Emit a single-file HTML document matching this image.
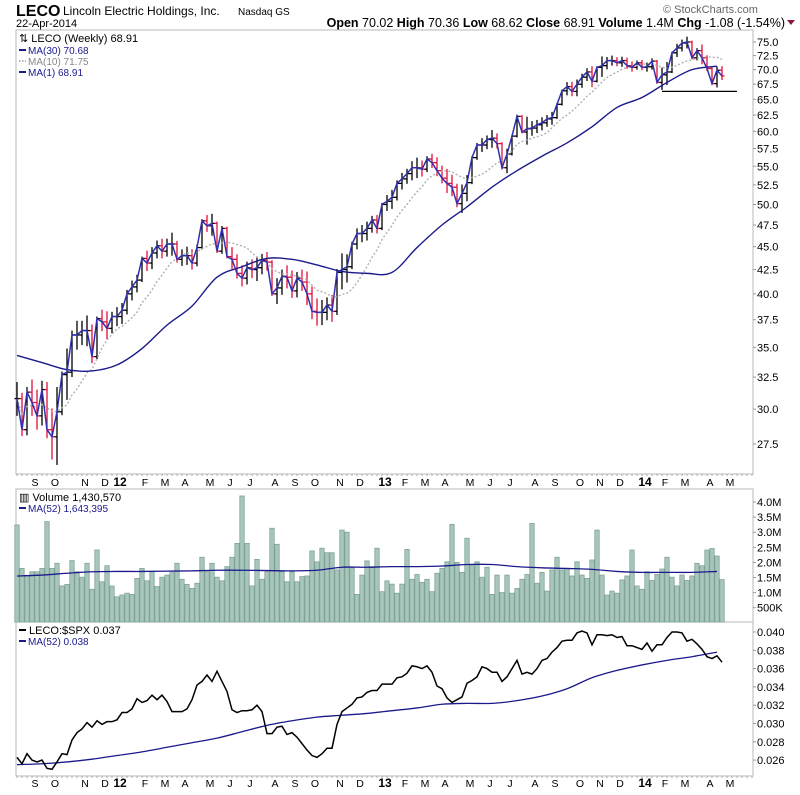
<!DOCTYPE html>
<html><head><meta charset="utf-8"><style>
html,body{margin:0;padding:0;background:#fff;}
svg{display:block;font-family:"Liberation Sans",sans-serif;}
</style></head><body>
<svg id="chart" width="800" height="795" viewBox="0 0 800 795" xmlns="http://www.w3.org/2000/svg">
<g>
<text x="16" y="16" font-size="16" font-weight="bold">LECO</text>
<text x="63" y="15" font-size="12">Lincoln Electric Holdings, Inc.</text>
<text x="238" y="15" font-size="10">Nasdaq GS</text>
<text x="16" y="27" font-size="11">22-Apr-2014</text>
<text x="663" y="13" font-size="11" fill="#666">© StockCharts.com</text>
<text x="785" y="27" font-size="12.5" text-anchor="end"><tspan font-weight="bold">Open</tspan> 70.02 <tspan font-weight="bold">High</tspan> 70.36 <tspan font-weight="bold">Low</tspan> 68.62 <tspan font-weight="bold">Close</tspan> 68.91 <tspan font-weight="bold">Volume</tspan> 1.4M <tspan font-weight="bold">Chg</tspan> -1.08 (-1.54%)</text>
<path d="M787 20 L795 20 L791 25 Z" fill="#8b1a3a"/>
</g>
<rect x="16" y="30" width="737" height="444" fill="none" stroke="#b8b8b8"/>
<rect x="16" y="489" width="737" height="133" fill="none" stroke="#b8b8b8"/>
<rect x="16" y="622" width="737" height="154" fill="none" stroke="#b8b8b8"/>
<g id="axes"></g>
<g id="marks"></g>
<g font-size="11">
<rect x="17" y="31" width="150" height="46" fill="#fff"/>
<text x="19" y="42">⇅ LECO (Weekly) 68.91</text>
<line x1="19" y1="50" x2="26" y2="50" stroke="#1a1a8c" stroke-width="2"/>
<text x="28" y="54" font-size="10" fill="#1a1a8c">MA(30) 70.68</text>
<line x1="19" y1="61" x2="26" y2="61" stroke="#999" stroke-width="1.5" stroke-dasharray="1.5,1.5"/>
<text x="28" y="65" font-size="10" fill="#888">MA(10) 71.75</text>
<line x1="19" y1="72" x2="26" y2="72" stroke="#1a1a8c" stroke-width="2"/>
<text x="28" y="76" font-size="10" fill="#1a1a8c">MA(1) 68.91</text>
</g>
<g>
<text x="19" y="501" font-size="11">▥ Volume 1,430,570</text>
<line x1="19" y1="508" x2="26" y2="508" stroke="#1a1a8c" stroke-width="2"/>
<text x="28" y="512" font-size="10" fill="#1a1a8c">MA(52) 1,643,395</text>
</g>
<g>
<line x1="19" y1="630" x2="26" y2="630" stroke="#000" stroke-width="2"/>
<text x="29" y="634" font-size="11">LECO:$SPX 0.037</text>
<line x1="19" y1="641" x2="26" y2="641" stroke="#1a1a8c" stroke-width="2"/>
<text x="28" y="645" font-size="10" fill="#1a1a8c">MA(52) 0.038</text>
</g>
</svg>
<script>
const closes=[30.8,28.5,31.3,30.5,29.5,31.5,28.5,28.0,29.8,32.7,32.9,36.1,36.1,36.5,36.5,34.2,37.6,37.3,36.7,37.8,37.8,38.4,40.0,40.7,41.4,43.7,43.2,44.3,45.1,44.5,45.3,45.3,43.6,44.0,44.0,43.2,44.9,48.0,47.4,47.7,44.5,47.1,43.9,43.6,42.1,41.6,42.7,42.5,42.7,43.5,43.3,40.0,40.6,41.8,41.7,40.3,41.6,41.2,40.0,38.3,38.2,38.2,38.9,38.3,42.2,42.5,42.8,45.3,46.5,46.5,47.1,48.1,47.1,50.0,50.4,50.9,52.7,53.3,54.0,54.8,54.8,54.6,56.0,55.5,54.4,53.4,52.7,52.2,50.1,51.4,52.8,56.2,58.0,58.0,58.8,59.0,58.2,54.8,56.7,59.3,62.3,59.9,60.4,60.5,61.0,61.3,61.9,62.1,64.2,66.4,67.1,66.3,67.5,68.7,69.6,68.0,70.4,70.7,71.6,71.6,71.2,71.6,70.7,70.4,71.2,70.4,70.5,71.5,67.8,69.1,69.6,73.0,73.9,74.8,75.0,72.1,73.4,72.1,70.2,67.6,69.9,68.91];
const ranges=[2.6,3.2,3.6,2.8,3.0,3.4,4.2,3.6,5.6,3.4,4.2,4.0,2.6,2.2,2.8,3.4,2.6,2.0,2.6,2.0,1.8,2.0,2.4,2.0,1.8,2.6,2.2,2.4,2.0,2.2,2.0,2.6,2.4,1.8,2.0,2.2,2.4,2.8,2.0,2.6,3.4,3.2,2.6,2.4,2.6,2.2,2.4,2.0,2.6,2.2,2.0,3.4,2.6,2.6,2.4,2.8,2.6,2.2,3.4,3.2,2.6,2.4,2.2,2.6,4.6,3.8,3.0,3.0,2.4,2.0,2.2,2.0,2.2,3.2,2.0,2.4,2.6,2.2,2.0,2.6,2.8,2.2,2.2,2.0,2.6,2.4,3.2,2.8,3.0,3.6,3.4,2.6,2.4,2.0,2.0,2.6,2.2,3.2,3.4,2.6,3.0,2.6,4.2,2.2,2.0,2.0,1.8,2.0,2.4,2.6,2.2,2.4,2.8,2.4,2.2,3.6,2.6,3.6,2.2,1.8,1.6,1.8,2.0,1.8,1.6,1.8,1.6,2.0,3.4,3.8,4.0,3.8,2.4,2.2,2.2,3.4,2.2,3.6,2.8,3.0,3.6,2.4];
const volumes=[3.24,1.80,1.55,1.69,1.69,1.80,3.35,1.80,1.97,1.22,1.27,2.06,1.69,1.51,1.97,1.11,2.41,1.36,1.89,1.22,0.86,0.92,0.98,0.94,1.47,1.80,1.39,1.69,1.20,1.51,1.58,1.66,1.97,1.44,1.27,1.14,1.31,2.17,1.69,1.97,1.51,1.39,1.86,2.17,2.63,4.20,2.63,1.22,2.10,1.44,1.69,3.13,2.60,1.69,1.36,1.69,1.36,1.53,1.55,2.38,2.02,2.47,2.32,2.32,1.75,3.07,3.00,1.82,0.94,1.58,2.05,1.86,2.47,1.03,1.39,1.28,0.98,1.28,2.43,1.44,1.60,1.34,1.44,1.03,1.64,1.80,2.02,3.26,2.00,1.67,2.80,1.89,2.02,1.51,1.84,0.94,1.58,1.00,1.58,0.98,1.14,1.44,1.60,3.29,1.31,1.67,1.05,1.75,2.17,1.75,1.80,1.55,2.02,1.58,1.47,2.08,3.07,1.58,0.92,1.05,0.98,1.42,1.55,2.41,1.22,1.11,1.69,1.40,1.60,1.78,2.17,1.51,1.22,1.58,1.40,1.55,1.97,1.89,2.41,2.46,2.21,1.43];
const ratios=[.0263,.0256,.0267,.0260,.0258,.0260,.0251,.0250,.0258,.0267,.0266,.0282,.0290,.0294,.0301,.0296,.0303,.0299,.0302,.0302,.0304,.0312,.0312,.0316,.0327,.0323,.0325,.0331,.0326,.0331,.0324,.0313,.0313,.0313,.0316,.0326,.0342,.0346,.0353,.0346,.0357,.0346,.0335,.0315,.0312,.0314,.0314,.0315,.0320,.0313,.0289,.0289,.0296,.0297,.0288,.0290,.0285,.0278,.0271,.0265,.0263,.0267,.0273,.0273,.0299,.0313,.0317,.0321,.0328,.0329,.0334,.0336,.0336,.0343,.0343,.0343,.0350,.0351,.0355,.0363,.0362,.0360,.0363,.0356,.0341,.0338,.0328,.0323,.0326,.0329,.0344,.0347,.0351,.0362,.0360,.0356,.0356,.0346,.0351,.0360,.0369,.0354,.0356,.0354,.0360,.0369,.0371,.0378,.0383,.0390,.0391,.0391,.0399,.0401,.0399,.0386,.0397,.0397,.0396,.0397,.0394,.0395,.0385,.0385,.0383,.0381,.0388,.0379,.0386,.0386,.0394,.0400,.0400,.0399,.0390,.0392,.0387,.0381,.0373,.0371,.0374,.0367];
// moving averages sampled every 5 weeks
const ma30=[34.3,33.7,33.1,33.0,33.5,34.9,37.0,38.8,41.7,42.8,43.7,43.6,43.0,42.3,42.1,42.2,44.9,47.5,49.7,52.2,54.4,56.4,58.3,60.7,63.7,65.3,67.8,70.0,70.6];
const volMa=[1.55,1.58,1.64,1.69,1.70,1.70,1.71,1.72,1.74,1.74,1.73,1.72,1.74,1.84,1.84,1.86,1.86,1.88,1.93,1.93,1.86,1.82,1.80,1.77,1.70,1.67,1.67,1.67,1.70];
const ratioMa=[.0255,.0256,.0258,.0261,.0265,.0269,.0274,.0279,.0284,.0291,.0298,.0303,.0307,.0309,.0311,.0314,.0317,.0321,.0322,.0322,.0325,.0330,.0338,.0350,.0358,.0364,.0369,.0373,.0378];
const priceTicks=[75.0,72.5,70.0,67.5,65.0,62.5,60.0,57.5,55.0,52.5,50.0,47.5,45.0,42.5,40.0,37.5,35.0,32.5,30.0,27.5];
const volTicks=[4.0,3.5,3.0,2.5,2.0,1.5,1.0,0.5];
const volTickLabels=["4.0M","3.5M","3.0M","2.5M","2.0M","1.5M","1.0M","500K"];
const ratioTicks=[.040,.038,.036,.034,.032,.030,.028,.026];
const monthLabels=["S","O","N","D","12","F","M","A","M","J","J","A","S","O","N","D","13","F","M","A","M","J","J","A","S","O","N","D","14","F","M","A","M"];
const monthWeeks=[4,8,14,18,21,26,30,34,39,43,47,52,56,60,65,69,74,78,82,86,91,95,99,104,108,113,117,121,126,130,134,139,143];
const supportLevel=66.3, supportStart=129, supportEnd=143;

const NS="http://www.w3.org/2000/svg";
const axes=document.getElementById('axes'), marks=document.getElementById('marks');
function mk(tag,attrs,parent){const e=document.createElementNS(NS,tag);for(const k in attrs)e.setAttribute(k,attrs[k]);parent.appendChild(e);return e;}
const xw=i=>17+i*5;
const yP=v=>42+(Math.log(75)-Math.log(v))/1.0033*402;
const yV=v=>622.8-v*30.2;
const yR=v=>632+(0.040-v)/0.002*18.3;
function smooth(pts){
  let d='M'+pts[0][0]+','+pts[0][1];
  for(let i=0;i<pts.length-1;i++){
    const p0=pts[Math.max(0,i-1)],p1=pts[i],p2=pts[i+1],p3=pts[Math.min(pts.length-1,i+2)];
    const c1x=p1[0]+(p2[0]-p0[0])/6,c1y=p1[1]+(p2[1]-p0[1])/6;
    const c2x=p2[0]-(p3[0]-p1[0])/6,c2y=p2[1]-(p3[1]-p1[1])/6;
    d+=' C'+c1x+','+c1y+' '+c2x+','+c2y+' '+p2[0]+','+p2[1];
  }
  return d;
}

priceTicks.forEach(v=>{
  const y=yP(v);
  const t=mk('line',{x1:753,x2:756,y1:y,y2:y,stroke:'#999'},axes);
  
  
  const l=mk('text',{x:757,y:y+4,'font-size':11},axes);l.textContent=v.toFixed(1);
  
  
});
volTicks.forEach((v,i)=>{
  const y=yV(v);
  mk('line',{x1:753,x2:756,y1:y,y2:y,stroke:'#999'},axes);
  const l=mk('text',{x:757,y:y+4,'font-size':11},axes);l.textContent=volTickLabels[i];
  
  
});
ratioTicks.forEach(v=>{
  const y=yR(v);
  mk('line',{x1:753,x2:756,y1:y,y2:y,stroke:'#999'},axes);
  const l=mk('text',{x:757,y:y+4,'font-size':11},axes);l.textContent=v.toFixed(3);
  
  
});
[[486,474],[787,776]].forEach(([ty,by])=>{
  monthLabels.forEach((m,i)=>{
    const yr=/\d/.test(m);
    const l=mk('text',{x:xw(monthWeeks[i])-2,y:ty,'font-size':yr?12:10.5,'font-weight':yr?'bold':'normal','text-anchor':'middle'},axes);
    l.textContent=m;
    
    
  });
  for(let i=0;i<150;i++){const x=17+i*5;if(x>752)break;mk('line',{x1:x,x2:x,y1:by,y2:by+2,stroke:'#aaa'},axes);}
});

closes.forEach((c,i)=>{
  const o=i>0?closes[i-1]:c;
  const extra=Math.max(0.2,(ranges[i]-Math.abs(c-o))/2);
  const hi=Math.max(o,c)+extra, lo=Math.min(o,c)-extra;
  const col=c<o?'#e0103a':'#000';
  const x=xw(i);
  const g=mk('g',{stroke:col,'stroke-width':1.3},marks);
  
  
  mk('line',{x1:x,x2:x,y1:yP(hi),y2:yP(lo)},g);
  mk('line',{x1:x-2.5,x2:x,y1:yP(o),y2:yP(o)},g);
  mk('line',{x1:x,x2:x+2.5,y1:yP(c),y2:yP(c)},g);
});
const ma10=closes.map((c,i)=>{const s=closes.slice(Math.max(0,i-9),i+1);return s.reduce((a,b)=>a+b,0)/s.length;});
let p=mk('polyline',{points:ma10.map((v,i)=>xw(i)+','+yP(v)).join(' '),fill:'none',stroke:'#b0b0b0','stroke-width':1.4,'stroke-dasharray':'2,2'},marks);


p=mk('path',{d:smooth(ma30.map((v,i)=>[xw(i*5),yP(v)])),fill:'none',stroke:'#1a1a8c','stroke-width':1.4},marks);


p=mk('polyline',{points:closes.map((v,i)=>xw(i)+','+yP(v)).join(' '),fill:'none',stroke:'#3030b0','stroke-width':1.5},marks);


p=mk('line',{x1:xw(supportStart),x2:xw(supportEnd)+5,y1:yP(supportLevel),y2:yP(supportLevel),stroke:'#000','stroke-width':1.2},marks);



volumes.forEach((v,i)=>{
  const r=mk('rect',{x:xw(i)-2.2,y:yV(v),width:4.4,height:622-yV(v),fill:'#a9c6bc',stroke:'#7fa397','stroke-width':0.8},marks);
  
  
});
p=mk('path',{d:smooth(volMa.map((v,i)=>[xw(i*5),yV(v)])),fill:'none',stroke:'#1a1a8c','stroke-width':1.3},marks);



p=mk('path',{d:smooth(ratioMa.map((v,i)=>[xw(i*5),yR(v)])),fill:'none',stroke:'#1a1a8c','stroke-width':1.3},marks);


p=mk('polyline',{points:ratios.map((v,i)=>xw(i)+','+yR(v)).join(' '),fill:'none',stroke:'#000','stroke-width':1.5},marks);


</script>
</body></html>
